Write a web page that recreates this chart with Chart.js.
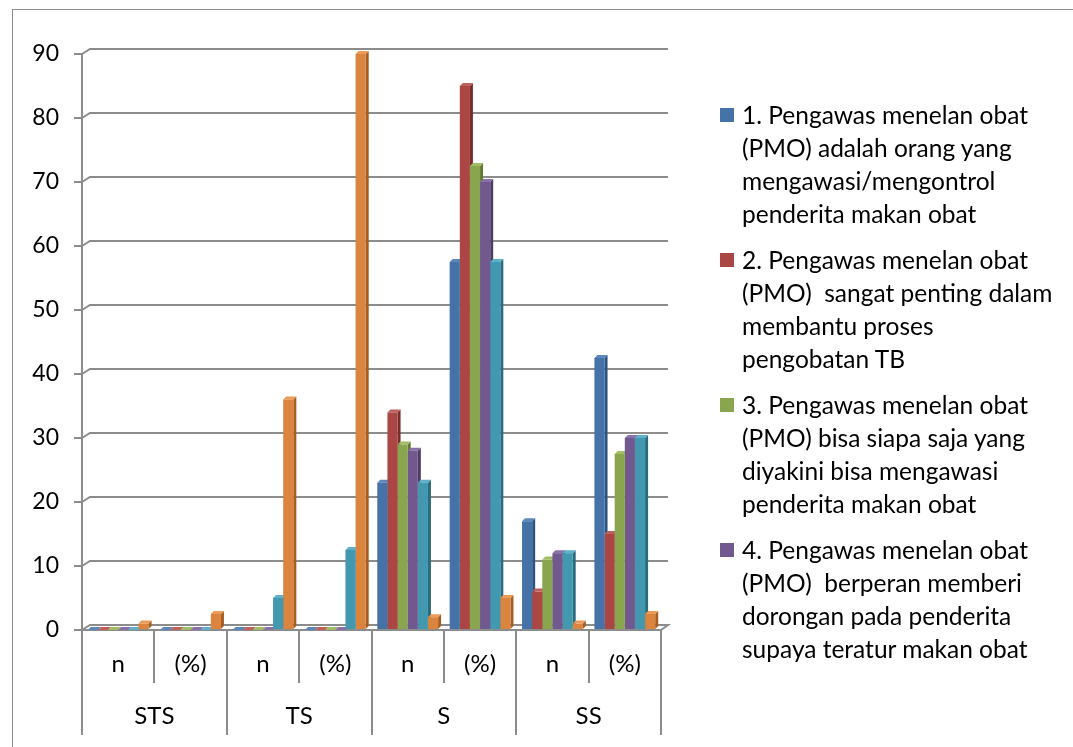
<!DOCTYPE html>
<html>
<head>
<meta charset="utf-8">
<script src="https://cdn.jsdelivr.net/npm/chart.js@4.4.1/dist/chart.umd.min.js"></script>
<style>
  body { margin: 0; background: #fff; overflow: hidden; }
  #frame { position: absolute; left: 12px; top: 9px; width: 1100px; height: 800px; border: 1px solid #8c8c8c; }
  #wrap { position: absolute; left: 0; top: 0; width: 1073px; height: 747px; }
  #legend { position: absolute; left: 720px; top: 98px; font-family: Lato, sans-serif; font-size: 24.5px; line-height: 33px; color: #000; }
  #legend .item { position: relative; padding-left: 22px; margin-bottom: 13px; white-space: nowrap; }
  #legend .box { position: absolute; left: 0; top: 10px; width: 14px; height: 14px; }
</style>
</head>
<body>
<div id="frame"></div>
<div id="wrap"><canvas id="myChart"></canvas></div>
<div id="legend"></div>
<script>
// categories (two-level axis)
const subLabels = ['n', '(%)', 'n', '(%)', 'n', '(%)', 'n', '(%)'];
const groupLabels = ['STS', 'TS', 'S', 'SS'];
const yTicks = [0, 10, 20, 30, 40, 50, 60, 70, 80, 90];

const seriesNames = [
    ['1. Pengawas menelan obat', '(PMO) adalah orang yang', 'mengawasi/mengontrol', 'penderita makan obat'],
    ['2. Pengawas menelan obat', '(PMO)  sangat penting dalam', 'membantu proses', 'pengobatan TB'],
    ['3. Pengawas menelan obat', '(PMO) bisa siapa saja yang', 'diyakini bisa mengawasi', 'penderita makan obat'],
    ['4. Pengawas menelan obat', '(PMO)  berperan memberi', 'dorongan pada penderita', 'supaya teratur makan obat'],
    ['5.'],
    ['6.']
];

// values per series, in order STS n, STS %, TS n, TS %, S n, S %, SS n, SS %
const s1 = [0, 0, 0, 0, 23, 57.5, 17, 42.5];
const s2 = [0, 0, 0, 0, 34, 85, 6, 15];
const s3 = [0, 0, 0, 0, 29, 72.5, 11, 27.5];
const s4 = [0, 0, 0, 0, 28, 70, 12, 30];
const s5 = [0, 0, 5, 12.5, 23, 57.5, 12, 30];
const s6 = [1, 2.5, 36, 90, 2, 5, 1, 2.5];

const colors = ['#4572A7', '#AA4643', '#89A54E', '#71588F', '#4198AF', '#DB843D'];
const sideColors = ['#2f5380', '#7a2c2a', '#627a35', '#4e3c66', '#2a6b7d', '#a55d22'];
const topColors = ['#5b87bd', '#c0605c', '#a0bd64', '#8a70a8', '#5cb0c8', '#ec9a55'];

const allSeries = [s1, s2, s3, s4, s5, s6];
const FONT = "Lato, sans-serif";
const GRID = '#8c8c8c';

// fake 3D: back wall gridlines and bar sides/tops
const depth3d = {
    id: 'depth3d',
    beforeDatasetsDraw(chart) {
        const ctx = chart.ctx;
        const ys = chart.scales.y;
        const area = chart.chartArea;
        ctx.save();
        ctx.strokeStyle = GRID;
        ctx.lineWidth = 2;
        yTicks.forEach(v => {
            const y = ys.getPixelForValue(v);
            ctx.beginPath();
            ctx.moveTo(area.left, y);
            ctx.lineTo(area.left + 8, y - 5);
            ctx.lineTo(area.right + 7, y - 5);
            if (v === 0) ctx.lineTo(area.right, y);
            ctx.stroke();
        });
        const d = 3;
        chart.data.datasets.forEach((ds, i) => {
            const meta = chart.getDatasetMeta(i);
            meta.data.forEach(bar => {
                const p = bar.getProps(['x', 'y', 'base', 'width'], true);
                const l = p.x - p.width / 2, r = p.x + p.width / 2;
                ctx.fillStyle = sideColors[i];
                ctx.beginPath();
                ctx.moveTo(r, p.y);
                ctx.lineTo(r + d, p.y - d);
                ctx.lineTo(r + d, p.base - d);
                ctx.lineTo(r, p.base);
                ctx.closePath();
                ctx.fill();
                ctx.fillStyle = topColors[i];
                ctx.beginPath();
                ctx.moveTo(l, p.y);
                ctx.lineTo(l + d, p.y - d);
                ctx.lineTo(r + d, p.y - d);
                ctx.lineTo(r, p.y);
                ctx.closePath();
                ctx.fill();
            });
        });
        ctx.restore();
    }
};

const ctx = document.getElementById('myChart').getContext('2d');
const myChart = new Chart(ctx, {
    type: 'bar',
    data: {
        labels: subLabels,
        datasets: allSeries.map((vals, i) => ({
            label: seriesNames[i].join(' '),
            data: vals,
            backgroundColor: colors[i],
            borderWidth: 0,
            categoryPercentage: 0.84,
            barPercentage: 1.0
        }))
    },
    options: {
        responsive: true,
        maintainAspectRatio: false,
        animation: false,
        layout: { padding: { top: 54, bottom: 12, left: 0, right: 0 } },
        scales: {
            y: {
                min: 0,
                max: 90,
                ticks: { stepSize: 10, color: '#000', font: { family: FONT, size: 23 }, padding: 15 },
                grid: { drawOnChartArea: false, tickLength: 8, color: GRID, lineWidth: 2 },
                border: { color: GRID, width: 2 },
                afterFit: s => { s.width = 82; }
            },
            yr: {
                position: 'right',
                display: true,
                ticks: { display: false },
                grid: { display: false },
                border: { display: false },
                afterFit: s => { s.width = 412; }
            },
            x: {
                grid: { offset: true, drawOnChartArea: false, tickLength: 53, color: GRID, lineWidth: 2 },
                border: { color: GRID, width: 2 },
                ticks: { color: '#000', font: { family: FONT, size: 24 }, padding: -33, maxRotation: 0 },
                afterFit: s => { s.height = 53; }
            },
            x2: {
                type: 'category',
                labels: groupLabels,
                position: 'bottom',
                offset: true,
                grid: { offset: true, drawOnChartArea: false, tickLength: 52, color: GRID, lineWidth: 2 },
                border: { display: false },
                ticks: { color: '#000', font: { family: FONT, size: 24 }, padding: -33, maxRotation: 0 },
                afterFit: s => { s.height = 52; }
            }
        },
        plugins: {
            legend: { display: false },
            tooltip: { enabled: false }
        }
    },
    plugins: [depth3d]
});

// legend: first four series only, as in the original
const legendEl = document.getElementById('legend');
seriesNames.slice(0, 4).forEach((lines, i) => {
    const item = document.createElement('div');
    item.className = 'item';
    item.innerHTML = '<span class="box" style="background:' + colors[i] + '"></span>' +
        lines.map(t => t.replace(/  /g, ' &nbsp;')).join('<br>');
    legendEl.appendChild(item);
});
</script>
</body>
</html>
